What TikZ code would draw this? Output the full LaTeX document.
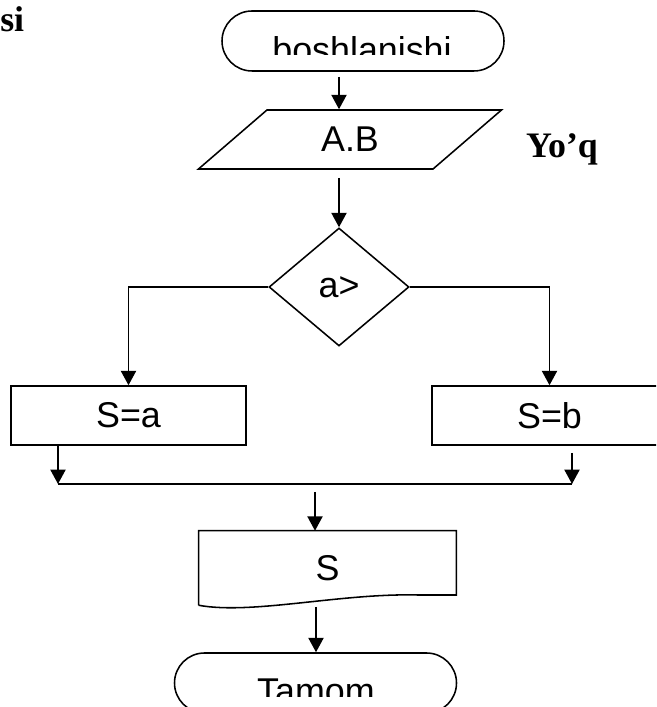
\documentclass[tikz,border=0pt]{standalone}
\usepackage{fontspec}
\setmainfont{Liberation Serif}
\setsansfont{Liberation Sans}
\usetikzlibrary{shapes,positioning,calc,shapes.geometric,arrows.meta}

\begin{document}
\begin{tikzpicture}[
    blk/.style={draw, line width=1.1pt, inner sep=0pt, font=\sffamily\fontsize{25.5}{30}\selectfont},
    term/.style={blk, minimum width=7.05cm, minimum height=1.5cm, rounded corners=0.75cm},
    proc/.style={blk, minimum width=5.875cm, minimum height=1.475cm},
    lbl/.style={inner sep=0pt, font=\sffamily\fontsize{25.5}{30}\selectfont},
    note/.style={inner sep=0pt, font=\bfseries\fontsize{25.5}{30}\selectfont},
    arr/.style={-{Triangle[length=0.36cm, width=0.38cm]}, line width=1.1pt}
]
    \useasboundingbox (0,0) rectangle (16.4,17.675);
    \clip (0,0) rectangle (16.4,17.675);

    % --- Start ---
    \node[term] (start) at (9.075,16.65) {};
    \begin{scope}
        \clip (start.north west) rectangle (start.east |- 0,16.3);
        \node[lbl, anchor=base] (starttxt) at (9.05,16.1) {boshlanishi};
    \end{scope}
    \node[note, anchor=base west] (cut) at (0,16.875) {si};

    % --- Input ---
    \node[blk, trapezium, trapezium left angle=46, trapezium right angle=134,
          trapezium stretches=true, minimum width=7.6cm, minimum height=1.475cm] (inp) at (8.75,14.1875) {\raisebox{-0.15cm}{A.B}};
    \node[note, anchor=base] (no) at (14.05,13.725) {Yo’q};
    \coordinate (a1) at (8.475,15.75);
    \draw[arr] (a1) -- (a1 |- inp.north);

    % --- Condition ---
    \node[blk, diamond, aspect=1.186, minimum width=3.5cm, minimum height=2.95cm] (cond) at (8.475,10.5) {a>};
    \coordinate (a2) at (8.475,13.225);
    \draw[arr] (a2) -- (cond.north);

    % --- Branches ---
    \node[proc] (sa) at (3.2125,7.2875) {\raisebox{-0.1cm}{S=a}};
    \node[proc] (sb) at (13.7375,7.2875) {\raisebox{-0.1cm}{S=b}};
    \draw[arr] (cond.west) -| (sa.north);
    \draw[arr] (cond.east) -| (sb.north);

    % --- Join ---
    \coordinate (jl) at (1.45,5.575);
    \coordinate (jr) at (14.3,5.575);
    \coordinate (rt) at (14.3,6.35);
    \draw[arr] (sa.south -| jl) -- (jl);
    \draw[arr] (rt) -- (jr);
    \draw[line width=1.1pt] (jl) -- (jr);

    % --- Output ---
    \node[lbl, minimum width=6.425cm, minimum height=1.85cm] (outp) at (8.1875,3.475) {S};
    \draw[line width=1.1pt] (outp.south west) -- (outp.north west) -- (outp.north east) -- (outp.east |- 0,2.8)
        -- (10.45,2.8) .. controls (8.5,2.85) and (6.3,2.3) .. (outp.south west);
    \coordinate (jm) at (7.875,5.375);
    \draw[arr] (jm) -- (jm |- outp.north);

    % --- End ---
    \node[term] (stop) at (7.8875,0.6) {};
    \begin{scope}
        \clip (stop.west |- 0,0.25) rectangle (stop.north east);
        \node[lbl, anchor=base] (stoptxt) at (7.9,0.075) {Tamom};
    \end{scope}
    \coordinate (wv) at (7.9,2.5);
    \draw[arr] (wv) -- (wv |- stop.north);
\end{tikzpicture}
\end{document}
